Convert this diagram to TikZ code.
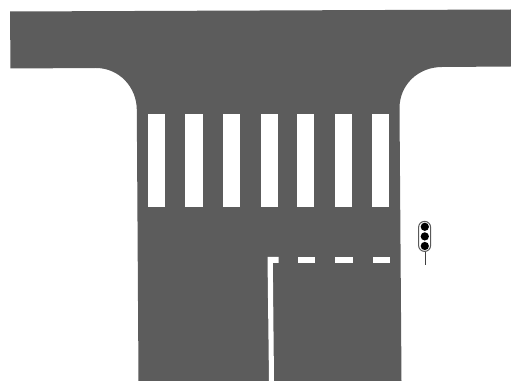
\documentclass[tikz,border=0pt]{standalone}
\definecolor{roadgray}{gray}{0.36}
\begin{document}
\begin{tikzpicture}[x=0.75pt,y=-0.75pt,
 road/.style={fill=roadgray,draw=none},
 zebra/.style={fill=white,draw=none},
 lamp/.style={fill=black,draw=none,circle,minimum size=6.2pt,inner sep=0pt}]
\useasboundingbox (0,0) rectangle (511,381);
\fill[white] (0,0) rectangle (511,381);
\path[road] (10,11.5) -- (511,9.5) -- (511,66.5) -- (442,67)
 .. controls (418,67) and (399.5,85) .. (399.5,108) -- (401.5,381) -- (138.5,381) -- (136.8,110)
 .. controls (136.8,87) and (119,68) .. (96,68) -- (10.5,68.5) -- cycle;
\foreach \a/\b in {147.8/164.8,185.3/203,223/240,261/277.6,297/314.3,334.5/352,371.8/389}
  \fill[zebra] (\a,113.8) rectangle (\b,207.2);
\fill[zebra] (267.5,256.8) -- (278.5,256.8) -- (278.5,262.8) -- (272.8,262.8) -- (274,381) -- (269,381) -- cycle;
\foreach \a/\b in {297.7/315,335.3/353,373/390}
  \fill[zebra] (\a,256.8) rectangle (\b,262.8);
\draw[black!75,line width=0.7pt] (425,251) -- (425,265);
\draw[black!65,fill=white,line width=0.75pt,rounded corners=4.4pt] (418.6,221.4) rectangle (430.6,251.4);
\node[lamp] (l1) at (424.8,226.8) {};
\node[lamp] (l2) at (424.8,236.4) {};
\node[lamp] (l3) at (424.8,246) {};
\end{tikzpicture}
\end{document}
